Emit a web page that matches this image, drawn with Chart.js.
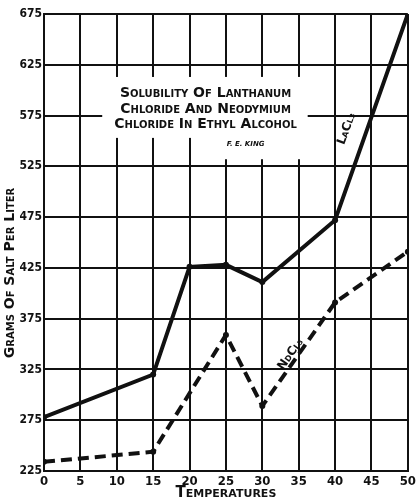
<!DOCTYPE html>
<html>
<head>
<meta charset="utf-8">
<script src="https://cdn.jsdelivr.net/npm/chart.js@4.4.0/dist/chart.umd.min.js"></script>
<style>
  html, body { margin: 0; padding: 0; background: #fff; }
  #wrap { width: 419px; height: 502px; }
</style>
</head>
<body>
<div id="wrap"><canvas id="chart" width="419" height="502"></canvas></div>
<script>
// Solubilidade (g de sal por litro) em álcool etílico
const temps = [0, 15, 20, 25, 30, 40, 50];
const laCl3 = [278, 320, 426, 428, 411, 472, 675];
const ndTemps = [0, 15, 25, 30, 40, 50];
const ndCl3 = [234, 244, 359, 289, 391, 441];

const xTicks = [0, 5, 10, 15, 20, 25, 30, 35, 40, 45, 50];
const yTicks = [225, 275, 325, 375, 425, 475, 525, 575, 625, 675];

const titleLines = ['Solubility Of Lanthanum', 'Chloride And Neodymium', 'Chloride In Ethyl Alcohol'];

const INK = '#111';
const tickFont = '"DejaVu Sans Condensed", "Liberation Sans Narrow", "DejaVu Sans", sans-serif';
const letterFont = '"DejaVu Sans", sans-serif';

// textos e a caixa do título, posicionados em unidades dos eixos
const annotations = {
    id: 'annotations',
    beforeDatasetsDraw(chart) {
        const { ctx, scales: { x, y } } = chart;
        ctx.save();
        ctx.fillStyle = '#fff';
        ctx.fillRect(x.getPixelForValue(8), y.getPixelForValue(613),
            x.getPixelForValue(36.2) - x.getPixelForValue(8), y.getPixelForValue(553) - y.getPixelForValue(613));
        ctx.fillRect(x.getPixelForValue(21), y.getPixelForValue(613),
            x.getPixelForValue(36.2) - x.getPixelForValue(21), y.getPixelForValue(532) - y.getPixelForValue(613));
        ctx.restore();
    },
    afterDraw(chart) {
        const { ctx, scales: { x, y } } = chart;
        ctx.save();
        ctx.fillStyle = INK;
        ctx.textAlign = 'center';
        ctx.textBaseline = 'middle';

        ctx.font = 'small-caps bold 14px ' + letterFont;
        const lineY = [597, 581.5, 566.5];
        titleLines.forEach((t, i) => {
            ctx.fillText(t, x.getPixelForValue(22.2), y.getPixelForValue(lineY[i]));
        });

        ctx.font = 'italic bold 7px ' + letterFont;
        ctx.fillText('F. E. KING', x.getPixelForValue(27.7), y.getPixelForValue(547));

        // rótulos das curvas
        ctx.font = 'small-caps bold 12px ' + letterFont;
        ctx.save();
        ctx.translate(x.getPixelForValue(41.6), y.getPixelForValue(562));
        ctx.rotate(-70 * Math.PI / 180);
        ctx.fillText('LaCl\u2083', 0, 0);
        ctx.restore();

        ctx.save();
        ctx.translate(x.getPixelForValue(33.9), y.getPixelForValue(340));
        ctx.rotate(-55 * Math.PI / 180);
        ctx.fillText('NdCl\u2083', 0, 0);
        ctx.restore();

        // títulos dos eixos
        ctx.font = 'small-caps bold 15px ' + letterFont;
        ctx.fillText('Temperatures', (x.left + x.right) / 2, 493);

        ctx.font = 'small-caps bold 14px ' + letterFont;
        ctx.save();
        ctx.translate(10, 273);
        ctx.rotate(-Math.PI / 2);
        ctx.fillText('Grams Of Salt Per Liter', 0, 0);
        ctx.restore();

        ctx.restore();
    }
};

new Chart(document.getElementById('chart'), {
    type: 'line',
    data: {
        datasets: [
            {
                label: 'LaCl3',
                data: temps.map((t, i) => ({ x: t, y: laCl3[i] })),
                borderColor: INK,
                backgroundColor: INK,
                borderWidth: 4,
                pointRadius: 3,
                pointBorderWidth: 0,
                tension: 0
            },
            {
                label: 'NdCl3',
                data: ndTemps.map((t, i) => ({ x: t, y: ndCl3[i] })),
                borderColor: INK,
                backgroundColor: INK,
                borderWidth: 4,
                borderDash: [11, 6],
                pointRadius: 3,
                pointBorderWidth: 0,
                tension: 0
            }
        ]
    },
    options: {
        responsive: false,
        animation: false,
        layout: { padding: { top: 14, right: 7, left: 0, bottom: 0 } },
        plugins: {
            legend: { display: false },
            tooltip: { enabled: false }
        },
        scales: {
            x: {
                type: 'linear',
                min: 0,
                max: 50,
                afterFit: (s) => { s.height = 31; },
                afterBuildTicks: (s) => { s.ticks = xTicks.map(v => ({ value: v })); },
                grid: { color: INK, lineWidth: 2, drawTicks: false },
                border: { color: INK, width: 2 },
                ticks: {
                    autoSkip: false,
                    maxRotation: 0,
                    padding: 3,
                    color: INK,
                    font: { family: tickFont, size: 13, weight: 'bold' }
                }
            },
            y: {
                min: 225,
                max: 675,
                afterFit: (s) => { s.width = 44; },
                afterBuildTicks: (s) => { s.ticks = yTicks.map(v => ({ value: v })); },
                grid: { color: INK, lineWidth: 2, drawTicks: false },
                border: { color: INK, width: 2 },
                ticks: {
                    autoSkip: false,
                    padding: 2,
                    color: INK,
                    font: { family: tickFont, size: 12, weight: 'bold' }
                }
            }
        }
    },
    plugins: [annotations]
});
</script>
</body>
</html>
